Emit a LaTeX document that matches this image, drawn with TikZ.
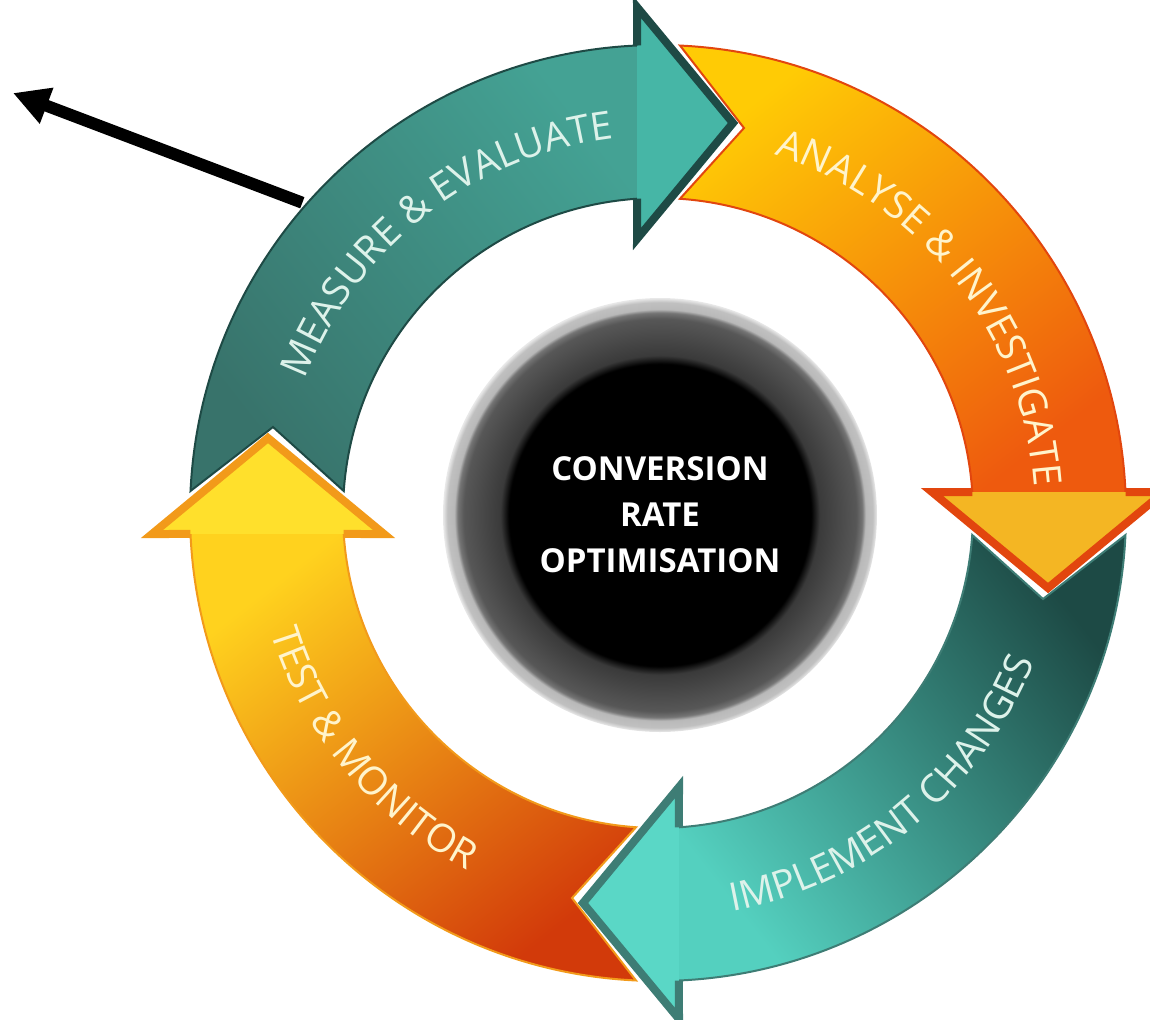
\documentclass[tikz,border=0pt]{standalone}
\usepackage{fontspec}
\newfontfamily\cyclefont{Open Sans}
\usepackage{tikz}
\usetikzlibrary{positioning,arrows.meta,decorations.text}

\definecolor{measuretail}{HTML}{38736B}
\definecolor{measuremid}{HTML}{3E7E76}
\definecolor{measurehead}{HTML}{44A294}
\definecolor{measureedge}{HTML}{1E4A45}
\definecolor{measurefill}{HTML}{46B6A6}
\definecolor{analysetail}{HTML}{FFCB05}
\definecolor{analysemid}{HTML}{FF960C}
\definecolor{analysehead}{HTML}{EE5A0E}
\definecolor{analyseedge}{HTML}{E2460E}
\definecolor{analysefill}{HTML}{F4B623}
\definecolor{implementtail}{HTML}{1D4A45}
\definecolor{implementmid}{HTML}{3C7B73}
\definecolor{implementhead}{HTML}{54D0BF}
\definecolor{implementedge}{HTML}{3E7D75}
\definecolor{implementfill}{HTML}{5AD7C6}
\definecolor{testtail}{HTML}{D23A0A}
\definecolor{testmid}{HTML}{F7870F}
\definecolor{testhead}{HTML}{FFD21E}
\definecolor{testedge}{HTML}{F29A1A}
\definecolor{testfill}{HTML}{FFE02C}
\definecolor{greentext}{HTML}{DDF2EA}
\definecolor{orangetext}{HTML}{FFF4CC}
\definecolor{hubinner}{HTML}{3A3A3A}
\definecolor{hubouter}{HTML}{575757}
\definecolor{hubrim}{HTML}{B9B9B9}

\pgfdeclareradialshading{hubshading}{\pgfpointorigin}{color(0bp)=(black); color(17.4bp)=(black); color(18.4bp)=(hubinner); color(22.6bp)=(hubouter); color(23.3bp)=(hubouter!70!hubrim); color(23.7bp)=(hubrim); color(24.5bp)=(hubrim!90!white); color(25bp)=(hubrim!30!white); color(50bp)=(white)}

\newcommand{\ringfont}{\cyclefont\fontsize{19.5pt}{19.5pt}\selectfont}
\newcommand{\hubfont}{\cyclefont\bfseries\fontsize{16.5pt}{23pt}\selectfont}

\tikzstyle{pointer} = [line width=6pt, -{Triangle[length=18pt,width=18pt]}]
\tikzstyle{headline} = [line width=4pt, line join=miter]
\tikzstyle{edgeline} = [line width=1pt]

% one ring arrow, head at the top, tail on the left
\newcommand{\bodypath}{(177.3:468) arc[start angle=177.3, end angle=92.57, radius=468] -- (93.82:315) arc[start angle=93.82, end angle=176, radius=315] -- (-385,86) -- cycle}
\newcommand{\bodyedge}{(93.82:315) arc[start angle=93.82, end angle=176, radius=315] -- (-385,86) -- (177.3:468) arc[start angle=177.3, end angle=92.57, radius=468]}
\newcommand{\headpath}{(92.57:468) -- (-21,506) -- (75,390) -- (-21,274) -- (93.82:315)}
\newcommand{\outerlabel}{(170:377) arc[start angle=170, end angle=86, radius=377]}
\newcommand{\innerlabel}{(92:405) arc[start angle=92, end angle=167, radius=405]}

\begin{document}
\begin{tikzpicture}[x=0.5pt, y=0.5pt,
    measurebody/.style = {top color=measurehead, middle color=measuremid, bottom color=measuretail, shading angle=-52},
    analysebody/.style = {top color=analysehead, middle color=analysemid, bottom color=analysetail, shading angle=-142},
    implementbody/.style = {top color=implementhead, middle color=implementmid, bottom color=implementtail, shading angle=128},
    testbody/.style = {top color=testhead, middle color=testmid, bottom color=testtail, shading angle=38},
    hub/.style = {circle, minimum size=217pt, inner sep=0pt, shading=hubshading, text=white, align=center, font=\hubfont}]
  \useasboundingbox (-658,-506) rectangle (492,513);

  % measure & evaluate
  \begin{scope}
    \path[measurebody] \bodypath;
    \draw[edgeline, draw=measureedge] \bodyedge;
    \fill[measurefill] \headpath -- cycle;
    \draw[headline, draw=measureedge] \headpath;
    \path[decorate, decoration={text along path, text align=center,
      text={|\ringfont\color{greentext}|MEASURE {\&} EVALUATE}}] \outerlabel;
  \end{scope}

  % analyse & investigate
  \begin{scope}[rotate=-90]
    \path[analysebody] \bodypath;
    \draw[edgeline, draw=analyseedge] \bodyedge;
    \fill[analysefill] \headpath -- cycle;
    \draw[headline, draw=analyseedge] \headpath;
    \path[decorate, decoration={text along path, text align=center,
      text={|\ringfont\color{orangetext}|ANALYSE {\&} INVESTIGATE}}] \outerlabel;
  \end{scope}

  % implement changes
  \begin{scope}[rotate=-180]
    \path[implementbody] \bodypath;
    \draw[edgeline, draw=implementedge] \bodyedge;
    \fill[implementfill] \headpath -- cycle;
    \draw[headline, draw=implementedge] \headpath;
    \path[decorate, decoration={text along path, text align=center,
      text={|\ringfont\color{greentext}|IMPLEMENT CHANGES}}] \innerlabel;
  \end{scope}

  % test & monitor
  \begin{scope}[rotate=-270]
    \path[testbody] \bodypath;
    \draw[edgeline, draw=testedge] \bodyedge;
    \fill[testfill] \headpath -- cycle;
    \draw[headline, draw=testedge] \headpath;
    \path[decorate, decoration={text along path, text align=center,
      text={|\ringfont\color{orangetext}|TEST {\&} MONITOR}}] \innerlabel;
  \end{scope}

  \node[hub] (hub) at (2,-2) {CONVERSION\\RATE\\OPTIMISATION};

  \coordinate (measure-edge) at (138.9:472);
  \coordinate (pointer-end) at (-645,420);
  \draw[pointer] (measure-edge) -- (pointer-end);
\end{tikzpicture}
\end{document}
